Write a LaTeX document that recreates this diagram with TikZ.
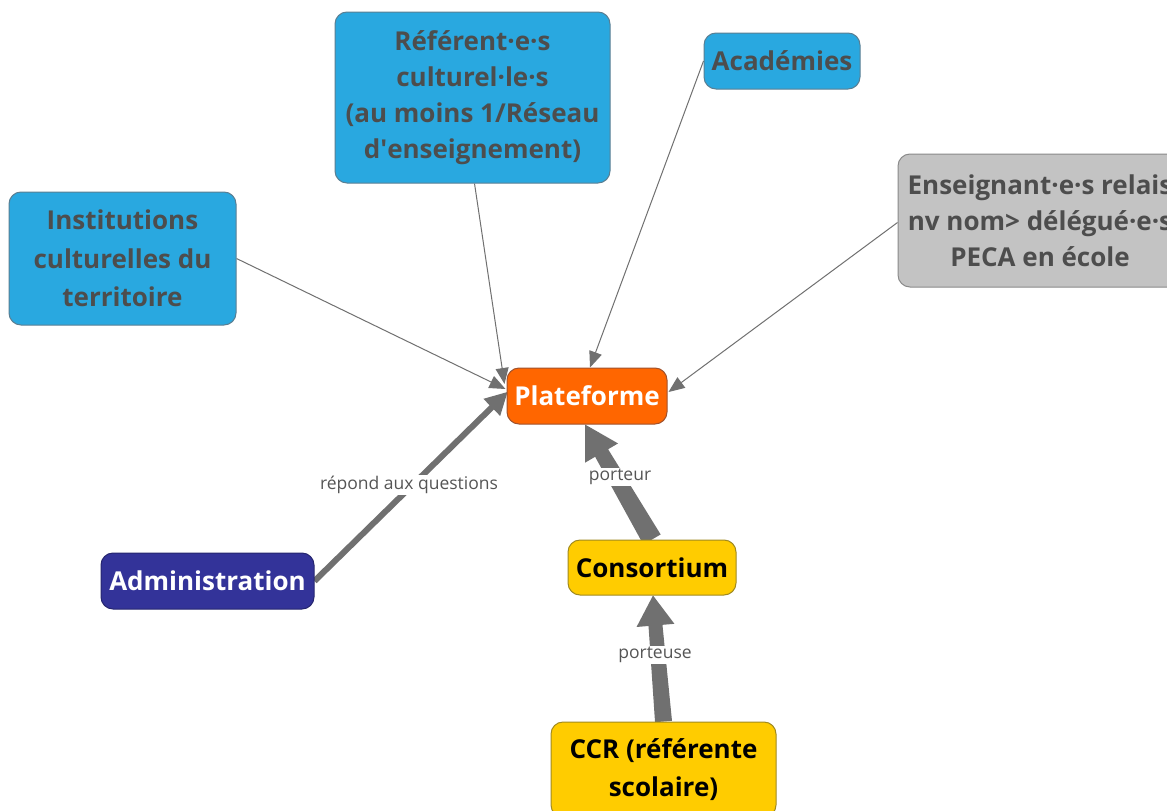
\documentclass[tikz,border=0pt]{standalone}
\usepackage{fontspec}
\setmainfont{Open Sans}
\usetikzlibrary{arrows.meta,calc}

\definecolor{cyanfill}{HTML}{29A8E0}
\definecolor{cyanline}{HTML}{5A7F93}
\definecolor{inkgrey}{HTML}{4D4D4D}
\definecolor{greyfill}{HTML}{C3C3C3}
\definecolor{greyline}{HTML}{8A8A8A}
\definecolor{orangefill}{HTML}{FF6600}
\definecolor{orangeline}{HTML}{A0522D}
\definecolor{navyfill}{HTML}{333399}
\definecolor{navyline}{HTML}{26266F}
\definecolor{goldfill}{HTML}{FFCC00}
\definecolor{goldline}{HTML}{A08A20}
\definecolor{linkgrey}{HTML}{707070}
\definecolor{labelgrey}{HTML}{555555}

\pgfdeclarelayer{paper}
\pgfdeclarelayer{links}
\pgfsetlayers{paper,links,main}

% straight apostrophe, set as a glyph so that the TeX quote mapping leaves it alone
\newcommand\straightapos{\XeTeXglyph\XeTeXcharglyph"0027\relax}

% filled arrow whose shaft narrows from #3 (half width at the start) to #4 (half width at the neck)
\newcommand\taperarrow[6]{%
  \path (#1) coordinate (tpA) (#2) coordinate (tpB);
  \path ($(tpB)!#6!(tpA)$) coordinate (tpN);
  \fill[linkgrey] ($(tpA)!#3!90:(tpB)$) -- ($(tpN)!#4!90:(tpB)$) -- ($(tpN)!#5!90:(tpB)$)
    -- (tpB) -- ($(tpN)!#5!-90:(tpB)$) -- ($(tpN)!#4!-90:(tpB)$) -- ($(tpA)!#3!-90:(tpB)$) -- cycle;}

\tikzset{
  box/.style={draw, line width=1pt, rounded corners=12pt, align=center, inner sep=0pt,
    font=\bfseries\fontsize{26}{38.5}\selectfont},
  tightlines/.style={font=\bfseries\fontsize{26}{36}\selectfont},
  cyanbox/.style={box, fill=cyanfill, draw=cyanline, text=inkgrey},
  greybox/.style={box, fill=greyfill, draw=greyline, text=inkgrey},
  orangebox/.style={box, fill=orangefill, draw=orangeline, text=white},
  navybox/.style={box, fill=navyfill, draw=navyline, text=white},
  goldbox/.style={box, fill=goldfill, draw=goldline, text=black},
  thinlink/.style={draw=linkgrey, line width=1pt, -{Triangle[length=16pt,width=13pt]}},
  linklabel/.style={fill=white, inner sep=1.5pt, text=labelgrey, font=\fontsize{17.5}{21}\selectfont},
}

\begin{document}
\begin{tikzpicture}[x=1pt,y=-1pt]
\useasboundingbox (0,0) rectangle (1167,811);
\begin{pgfonlayer}{paper}
  \fill[white] (0,0) rectangle (1167,811);
\end{pgfonlayer}

% nodes
\node[cyanbox, tightlines, minimum width=275pt, minimum height=171pt] (ref) at (472.5,97.5)
  {Référent·e·s\\culturel·le·s\\(au moins 1/Réseau\\d\straightapos enseignement)};
\node[cyanbox, minimum width=156pt, minimum height=56pt] (acad) at (782,61) {Académies};
\node[cyanbox, minimum width=227pt, minimum height=133pt] (inst) at (122.5,258.5)
  {Institutions\\culturelles du\\territoire};
\node[greybox, tightlines, minimum width=284pt, minimum height=133pt] (ens) at (1040,220.5)
  {Enseignant·e·s relais\\nv nom> délégué·e·s\\PECA en école};
\node[orangebox, minimum width=160pt, minimum height=56pt] (plat) at (587,396) {Plateforme};
\node[navybox, minimum width=213pt, minimum height=56pt] (adm) at (207.5,581) {Administration};
\node[goldbox, minimum width=168pt, minimum height=55pt] (cons) at (652,567.5) {Consortium};
\node[goldbox, minimum width=225pt, minimum height=95pt] (ccr) at (663.5,769.5)
  {CCR (référente\\scolaire)};

% connectors
\begin{pgfonlayer}{links}
  \draw[thinlink] (inst.east) -- ($(plat.west)+(-1,-7)$);
  \draw[thinlink] ($(ref.south)+(2,0)$) -- ($(plat.west)+(-2,-12)$);
  \draw[thinlink] (acad.west) -- ($(plat.north)+(3,0)$);
  \draw[thinlink] ($(ens.west)+(0,2)$) -- ($(plat.east)+(1,-4)$);

  \taperarrow{adm.east}{$(plat.west)+(1,-4)$}{3pt}{3pt}{12pt}{22pt}
  \taperarrow{cons.north}{$(plat.south)+(-2,0)$}{10pt}{7.5pt}{19pt}{33pt}
  \taperarrow{ccr.north}{$(cons.south)+(1,0)$}{8.5pt}{7pt}{19pt}{30pt}

  \node[linklabel] (lblAdm) at (409,485) {répond aux questions};
  \node[linklabel] (lblCons) at (620,477) {porteur};
  \node[linklabel] (lblCcr) at (655,655) {porteuse};
\end{pgfonlayer}
\end{tikzpicture}
\end{document}
